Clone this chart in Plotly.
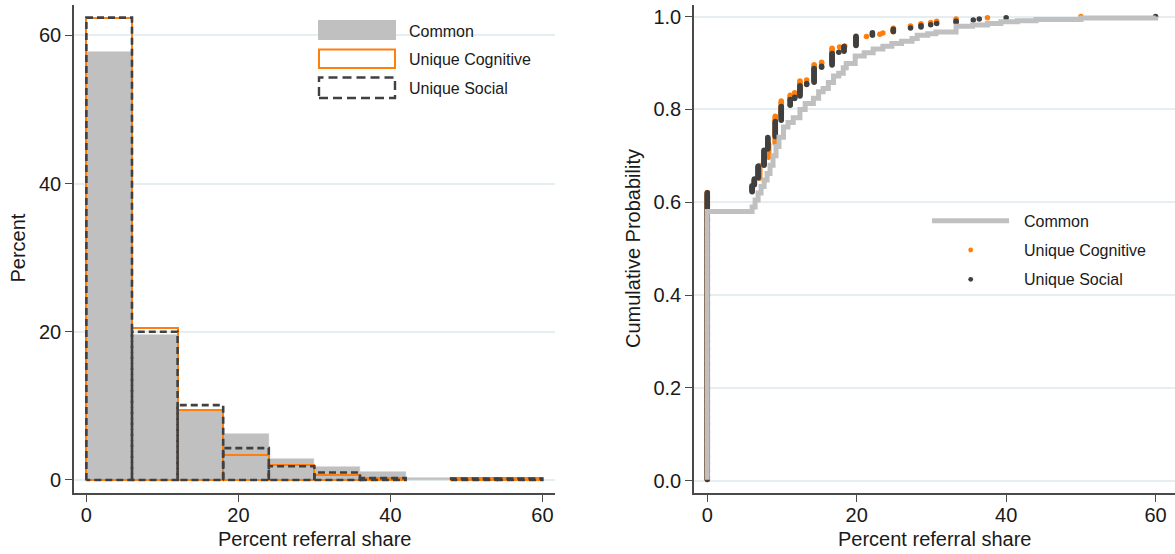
import numpy as np
import plotly.graph_objects as go

W, H = 1175, 554
FONT = "Liberation Sans, Arial, Helvetica, sans-serif"
TXT = "#1a1a1a"
AXC = "#4a4a4a"
GRID = "#e6eef1"
GREY = "#c0c0c0"
ORANGE = "#ff7f0e"
DARK = "#404040"

# ---- histogram of referral share (percent of sample per 6-point bin) ----
bin_edges = [0, 6, 12, 18, 24, 30, 36, 42, 48, 54, 60]
common_pct = [57.8, 19.6, 9.3, 6.2, 2.8, 1.8, 1.1, 0.2, 0.1, 0.1]
cognitive_pct = [62.4, 20.5, 9.5, 3.4, 2.0, 0.7, 0.25, 0, 0.2, 0.2]
social_pct = [62.4, 20.0, 10.1, 4.3, 1.85, 1.0, 0.25, 0, 0.2, 0.2]

# ---- empirical CDF inputs ----
# Common: step points (referral share, cumulative probability)
common_x = [0, 0, 6.0, 6.4, 6.8, 7.2, 7.6, 8.0, 8.4, 8.8, 9.2, 9.6, 10.2, 10.8,
            11.5, 12.4, 13.1, 14.2, 14.9, 15.5, 16.2, 16.9, 17.6, 18.2, 18.6,
            19.8, 21.0, 22.2, 23.5, 24.7, 26.0, 27.4, 28.1, 29.5, 30.6, 33.3,
            35.5, 37.5, 39.3, 41.5, 44.0, 50.0, 60.0]
common_cdf = [0.002, 0.58, 0.59, 0.605, 0.62, 0.634, 0.648, 0.662, 0.68, 0.70,
              0.72, 0.74, 0.762, 0.772, 0.782, 0.80, 0.813, 0.824, 0.838, 0.845,
              0.858, 0.872, 0.878, 0.89, 0.899, 0.915, 0.922, 0.93, 0.936,
              0.942, 0.947, 0.953, 0.96, 0.963, 0.967, 0.979, 0.982, 0.985,
              0.989, 0.991, 0.994, 0.997, 1.0]

# Unique Cognitive: distinct referral shares and number of observations at each
cog_values = [0, 6.0, 6.3, 7.0, 7.6, 8.2, 9.1, 9.9, 11.1, 11.7, 12.4, 13.3, 14.3,
              15.3, 16.7, 17.7, 18.4, 19.9, 21.3, 22.1, 23.1, 23.5, 24.9, 27.2,
              28.6, 29.9, 30.7, 33.3, 37.5, 50.0]
cog_counts = [246, 6, 5, 12, 6, 12, 24, 13, 5, 2, 10, 1, 13,
              2, 12, 1, 1, 7, 1, 1, 1, 1, 4, 2,
              2, 1, 1, 2, 1, 1]

# Unique Social: distinct referral shares and number of observations at each
soc_values = [0, 6.0, 6.3, 6.8, 7.6, 8.1, 9.1, 9.9, 11.1, 11.7, 12.4, 13.3, 14.3,
              15.3, 16.7, 17.6, 18.3, 19.9, 22.1, 24.9, 27.2, 28.6, 29.9, 30.7,
              33.3, 35.6, 36.4, 40.0, 60.0]
soc_counts = [250, 6, 6, 11, 14, 11, 14, 13, 6, 2, 10, 2, 13,
              2, 11, 1, 5, 9, 3, 3, 1, 2, 1, 1,
              2, 1, 1, 1, 1]


def ecdf_points(values, counts):
    """One point per observation: (value, rank / N)."""
    xs = np.repeat(np.asarray(values, dtype=float), counts)
    n = len(xs)
    ys = np.arange(1, n + 1) / n
    return xs, ys


def outline_path(edges, heights):
    """Closed rectangle outlines for non-empty bins, separated by gaps."""
    xs, ys = [], []
    for left, right, h in zip(edges[:-1], edges[1:], heights):
        if h <= 0:
            continue
        xs += [left, left, right, right, left, None]
        ys += [0, h, h, 0, 0, None]
    return xs, ys


centers = [(a + b) / 2 for a, b in zip(bin_edges[:-1], bin_edges[1:])]
widths = [b - a for a, b in zip(bin_edges[:-1], bin_edges[1:])]

fig = go.Figure()

# Left panel: histograms
fig.add_trace(go.Bar(
    x=centers, y=[v if v > 0 else None for v in common_pct], width=widths,
    marker=dict(color=GREY, line=dict(color=GREY, width=0.5)),
    name="Common", xaxis="x", yaxis="y", showlegend=False,
))
fig.add_trace(go.Bar(
    x=centers, y=[v if v > 0 else None for v in cognitive_pct], width=widths,
    marker=dict(color="rgba(0,0,0,0)", line=dict(color=ORANGE, width=2)),
    name="Unique Cognitive", xaxis="x", yaxis="y", showlegend=False,
))
sx, sy = outline_path(bin_edges, social_pct)
fig.add_trace(go.Scatter(
    x=sx, y=sy, mode="lines",
    line=dict(color=DARK, width=2.6, dash="7px,4px"),
    name="Unique Social", xaxis="x", yaxis="y", showlegend=False,
))

# Right panel: cumulative distributions
cx, cy = ecdf_points(cog_values, cog_counts)
fig.add_trace(go.Scatter(
    x=cx, y=cy, mode="markers",
    marker=dict(color=ORANGE, size=5.5, line=dict(width=0)),
    name="Unique Cognitive", xaxis="x2", yaxis="y2", showlegend=False,
))
ox, oy = ecdf_points(soc_values, soc_counts)
fig.add_trace(go.Scatter(
    x=ox, y=oy, mode="markers",
    marker=dict(color=DARK, size=5.5, line=dict(width=0)),
    name="Unique Social", xaxis="x2", yaxis="y2", showlegend=False,
))
fig.add_trace(go.Scatter(
    x=common_x, y=common_cdf, mode="lines", line_shape="hv",
    line=dict(color=GREY, width=5),
    name="Common", xaxis="x2", yaxis="y2", showlegend=False,
))

axis_common = dict(
    showline=True, linecolor=AXC, linewidth=1.6,
    ticks="outside", ticklen=7, tickwidth=1.4, tickcolor=AXC,
    tickfont=dict(family=FONT, size=20, color=TXT),
    zeroline=False, mirror=False,
)

fig.update_layout(
    width=W, height=H,
    margin=dict(l=0, r=0, t=0, b=0),
    paper_bgcolor="white", plot_bgcolor="white",
    barmode="overlay", bargap=0,
    showlegend=False,
    xaxis=dict(domain=[74 / W, 555 / W], range=[-1.63, 61.66], anchor="y",
               tickvals=[0, 20, 40, 60], showgrid=False,
               ticklabelstandoff=-4, **axis_common),
    yaxis=dict(domain=[1 - 493 / H, 1 - 5 / H], range=[-1.76, 64.1], anchor="x",
               tickvals=[0, 20, 40, 60], showgrid=True, gridcolor=GRID,
               gridwidth=1.5, **axis_common),
    xaxis2=dict(domain=[694 / W, 1.0], range=[-1.78, 62.6], anchor="y2",
                tickvals=[0, 20, 40, 60], showgrid=False,
                ticklabelstandoff=-4, **axis_common),
    yaxis2=dict(domain=[1 - 493.3 / H, 1 - 5 / H], range=[-0.027, 1.025],
                anchor="x2", tickvals=[0, 0.2, 0.4, 0.6, 0.8, 1.0],
                tickformat=".1f", showgrid=True, gridcolor=GRID, gridwidth=1.5,
                **axis_common),
)


def px(x, y):
    return x / W, 1 - y / H


annotations = []


def text(x, y, s, size, anchor="center", angle=0):
    ax, ay = px(x, y)
    annotations.append(dict(
        x=ax, y=ay, xref="paper", yref="paper", text=s, showarrow=False,
        xanchor=anchor, yanchor="middle", textangle=angle,
        font=dict(family=FONT, size=size, color=TXT),
    ))


# Axis titles
text(314.5, 539, "Percent referral share", 20)
text(17.5, 248, "Percent", 20, angle=-90)
text(934, 539, "Percent referral share", 20)
text(633, 249, "Cumulative Probability", 20, angle=-90)

shapes = []


def rect(x0, y0, x1, y1, **kw):
    a0, b0 = px(x0, y0)
    a1, b1 = px(x1, y1)
    shapes.append(dict(type="rect", xref="paper", yref="paper",
                       x0=a0, y0=b1, x1=a1, y1=b0, **kw))


# Left legend
rect(318, 20, 396, 40, fillcolor=GREY, line=dict(width=0))
rect(319, 49.5, 395, 68, fillcolor="rgba(0,0,0,0)",
     line=dict(color=ORANGE, width=2))
rect(319, 77.5, 395, 98, fillcolor="rgba(0,0,0,0)",
     line=dict(color=DARK, width=2.4, dash="9px,5px"))
text(407, 31.5, "Common", 16, anchor="left")
text(407, 59.5, "Unique Cognitive", 16, anchor="left")
text(407, 88.5, "Unique Social", 16, anchor="left")

# Right legend
l0, ly = px(932, 220.7)
l1, _ = px(1009, 220.7)
shapes.append(dict(type="line", xref="paper", yref="paper", x0=l0, x1=l1,
                   y0=ly, y1=ly, line=dict(color=GREY, width=5)))
for cyp, col in [(250, ORANGE), (279.3, DARK)]:
    a0, b0 = px(968.3, cyp + 2.4)
    a1, b1 = px(973.1, cyp - 2.4)
    shapes.append(dict(type="circle", xref="paper", yref="paper",
                       x0=a0, y0=b0, x1=a1, y1=b1, fillcolor=col,
                       line=dict(width=0)))
text(1021.5, 221.5, "Common", 16, anchor="left")
text(1021.5, 250.5, "Unique Cognitive", 16, anchor="left")
text(1021.5, 279.5, "Unique Social", 16, anchor="left")

fig.update_layout(annotations=annotations, shapes=shapes)

fig.write_html("out.html")
